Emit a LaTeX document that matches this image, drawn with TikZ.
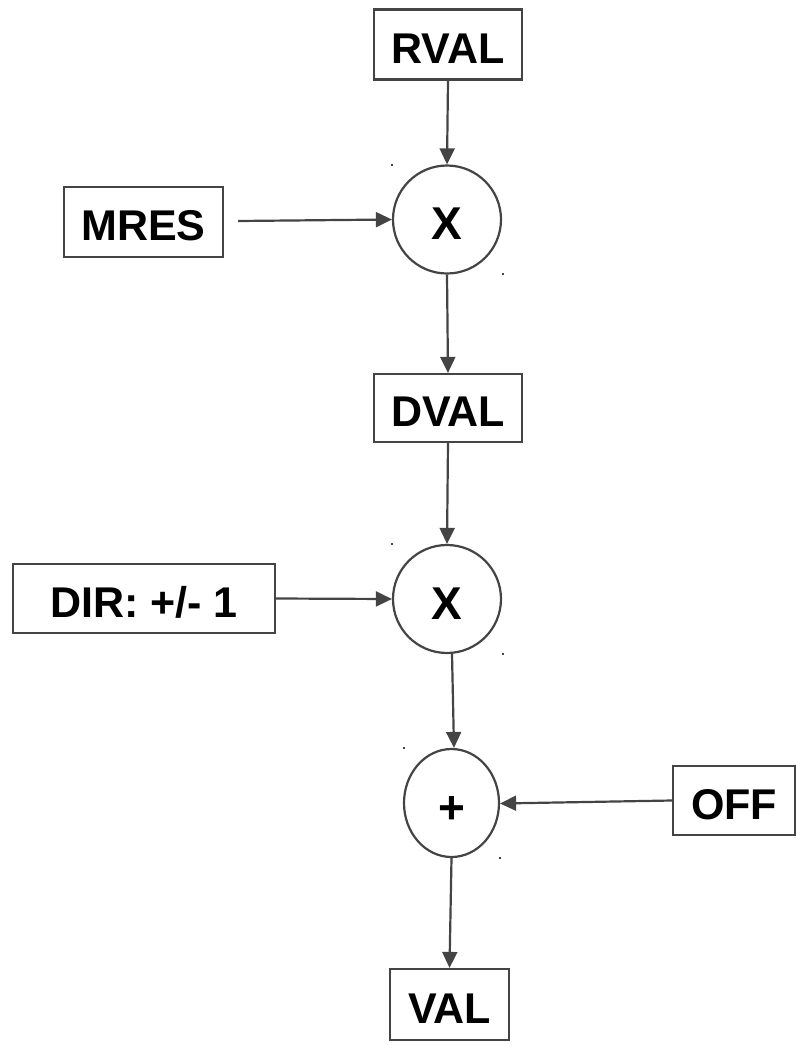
\documentclass[tikz,border=0pt]{standalone}
\usepackage{fontspec}
\setmainfont{Liberation Sans}
\usetikzlibrary{arrows.meta,shapes.geometric}
\definecolor{edge}{HTML}{444444}
\tikzset{
  lbl/.style={font=\fontsize{43bp}{50bp}\selectfont\bfseries, text=black,
    text height=37bp, text depth=0bp, inner sep=0pt},
  oplbl/.style={font=\fontsize{46bp}{54bp}\selectfont\bfseries, text=black,
    text height=40bp, text depth=0bp, inner sep=0pt},
  valbox/.style={lbl, rectangle, draw=edge, line width=2.2bp, fill=white},
  opnode/.style={oplbl, circle, draw=edge, line width=2.2bp, minimum size=108bp},
  sumnode/.style={oplbl, ellipse, draw=edge, line width=2.2bp,
    minimum width=95bp, minimum height=108bp},
  flow/.style={draw=edge, line width=2.2bp,
    -{Triangle[length=16bp,width=15bp]}},
  tick/.style={fill=edge, draw=none}
}
\begin{document}
\begin{tikzpicture}[x=1bp,y=-1bp]
  \useasboundingbox (0,0) rectangle (797,1045);

  % value boxes
  \node[valbox, minimum width=148bp, minimum height=70bp] (rval) at (448,44.5) {RVAL};
  \node[valbox, minimum width=159bp, minimum height=70bp] (mres) at (143.5,222) {MRES};
  \node[valbox, minimum width=148bp, minimum height=68bp] (dval) at (448,408) {DVAL};
  \node[valbox, minimum width=262bp, minimum height=69bp] (dir)  at (144,598.5) {DIR: +/- 1};
  \node[valbox, minimum width=122bp, minimum height=69bp] (off)  at (734,800.5) {OFF};
  \node[valbox, minimum width=119bp, minimum height=71bp] (val)  at (449.5,1004.5) {VAL};

  % operators
  \node[opnode] (mul1) at (447,219.5) {X};
  \node[opnode] (mul2) at (447,599) {X};
  \node[sumnode] (sum) at (451.5,803) {+};

  % connectors
  \draw[flow] (rval.south) -- (mul1.north);
  \draw[flow] ([xshift=14bp,yshift=1bp]mres.east) -- (mul1.west);
  \draw[flow] (mul1.south) -- (dval.north);
  \draw[flow] (dval.south) -- (mul2.north);
  \draw[flow] (dir.east) -- (mul2.west);
  \draw[flow] ([xshift=5bp]mul2.south) -- ([xshift=2.5bp]sum.north);
  \draw[flow] (off.west) -- ([yshift=-0.5bp]sum.east);
  \draw[flow] (sum.south) -- (val.north);

  % corner ticks around the operators
  \foreach \px/\py in {392/165, 503/274, 392/544, 503/654, 404/748, 500/858}
    \fill[tick] (\px-1.2,\py-1.2) rectangle (\px+1.2,\py+1.2);
\end{tikzpicture}
\end{document}
